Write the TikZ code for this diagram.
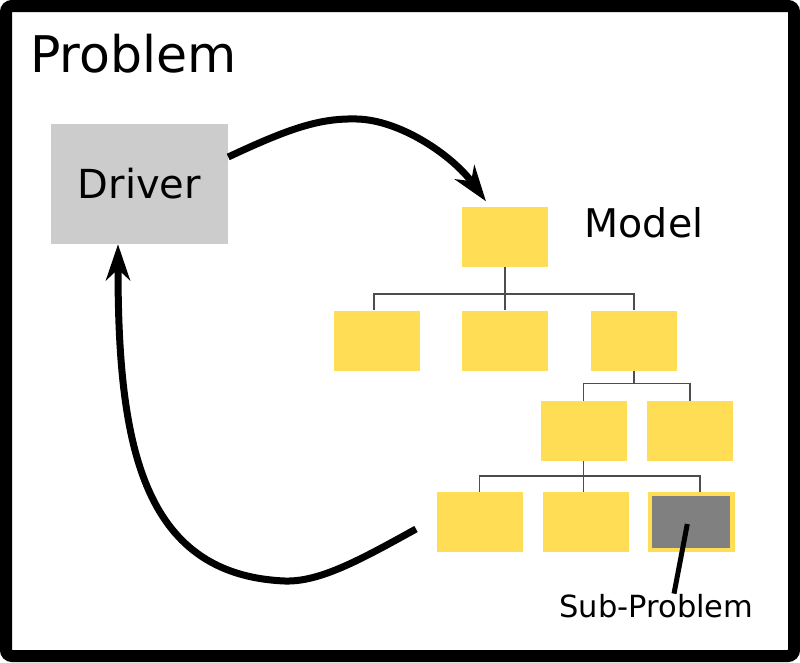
\documentclass[tikz,border=0pt]{standalone}
\usepackage{fontspec}
\setmainfont{DejaVu Sans}
\usetikzlibrary{arrows.meta}

\definecolor{modelyellow}{HTML}{FFDD55}
\definecolor{drivergray}{HTML}{CCCCCC}
\definecolor{subgray}{HTML}{808080}
\definecolor{treeline}{HTML}{4D4D4D}

\tikzset{
  part/.style={fill=modelyellow,minimum width=86,minimum height=60,inner sep=0},
  branch/.style={draw=treeline,line width=1.3},
  flow/.style={line width=7,-{Stealth[length=36,width=24,inset=11]}},
  pointer/.style={line width=5},
}

\begin{document}
\begin{tikzpicture}[x=1pt,y=-1pt]
        \useasboundingbox (0,0) rectangle (800,662);
        \draw[line width=12,rounded corners=6] (6,6) rectangle (794,656);

        \node[anchor=base west,inner sep=0,font=\fontsize{50.5}{60}\selectfont] (title) at (30,72) {Problem};

        % driver
        \node[fill=drivergray,minimum width=177,minimum height=120,inner sep=0,
              font=\fontsize{40}{48}\selectfont] (driver) at (139.5,184) {Driver};

        % model tree
        \node[part] (root) at (505,236.5) {};
        \node[anchor=base west,inner sep=0,font=\fontsize{39.5}{47}\selectfont] (model) at (584.5,237) {Model};

        \node[part] (m1) at (377,340.5) {};
        \node[part] (m2) at (505,340.5) {};
        \node[part] (m3) at (634,340.5) {};

        \node[part] (s1) at (583.5,431) {};
        \node[part] (s2) at (690,431) {};

        \node[part] (b1) at (479.7,522) {};
        \node[part] (b2) at (585.7,522) {};
        \node[part,fill=subgray,draw=modelyellow,line width=4.3,
              minimum width=82.3,minimum height=56] (b3) at (691.3,522) {};

        \coordinate (j1) at (505,294);
        \coordinate (j2) at (634,383.5);
        \coordinate (j3) at (583.3,476);

        \draw[branch] (root.south) -- (m2.north);
        \draw[branch] ([xshift=-3]m1.north) |- (j1) -| (m3.north);
        \draw[branch] (m3.south) -- (j2);
        \draw[branch] (s1.north) |- (j2) -| (s2.north);
        \draw[branch] ([xshift=-0.2]s1.south) -- ([xshift=-0.2]s1.south |- b2.north);
        \draw[branch] (b1.north) |- (j3) -| ([xshift=8.7]b3.north);

        % sub-problem label
        \node[anchor=base,inner sep=0,font=\fontsize{30.5}{36}\selectfont] (sub) at (656.5,617) {Sub-Problem};
        \draw[pointer] ([shift={(-4,2)}]b3.center) -- ([xshift=17.5]sub.north);

        % driver <-> model
        \draw[flow] (driver.east |- 0,157) .. controls (290,128) and (320,118) .. (357,119)
              .. controls (400,120) and (452,155) .. ([shift={(-19,-5)}]root.north);
        \draw[flow] (416,529) .. controls (360,560) and (320,582) .. (285,581)
              .. controls (140,575) and (118,440) .. ([xshift=-21.5]driver.south);
    \end{tikzpicture}
\end{document}
